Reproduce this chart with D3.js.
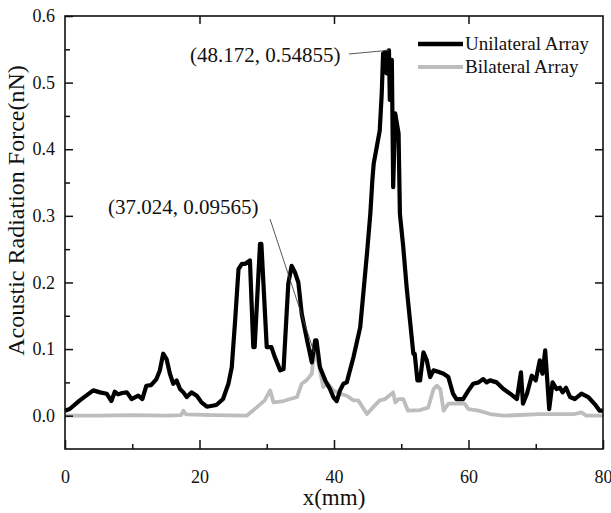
<!DOCTYPE html>
<html>
<head>
<meta charset="utf-8">
<script src="https://cdn.jsdelivr.net/npm/d3@7"></script>
<style>
  html, body { margin: 0; padding: 0; background: #fff; }
  svg { display: block; }
  svg text { font-family: "Liberation Serif", "Times New Roman", serif; }
</style>
</head>
<body>
<svg id="chart" width="611" height="513"></svg>
<script>
// Acoustic radiation force along x for the two transducer layouts
const uniX = [0, 0.7, 2.2, 4.2, 5.2, 6.2, 6.9, 7.4, 7.9, 8.5, 9.2, 9.9, 10.9, 11.5, 12.1, 12.8, 13.6, 14.1, 14.6, 15.1,
  15.6, 16.1, 16.6, 17.1, 17.6, 18.1, 18.8, 19.6, 20.3, 21.1, 22.5, 23.5, 24.3, 24.8, 25.3, 25.8, 26.3, 26.8, 27.5, 28.0,
  28.2, 29.0, 29.2, 30.0, 30.7, 31.2, 32.0, 32.5, 33.2, 33.7, 34.2, 34.7, 35.2, 35.9, 36.7, 37.2, 37.4, 37.9, 38.7, 39.4,
  39.9, 40.4, 40.9, 41.4, 41.9, 42.9, 43.9, 44.4, 44.9, 45.4, 45.7, 45.9, 46.8, 47.1, 47.3, 47.7, 47.8, 48.172, 48.3, 48.6,
  48.8, 49.1, 49.6, 49.8, 50.3, 50.8, 51.3, 51.8, 52.0, 52.4, 52.8, 53.3, 53.8, 54.3, 54.8, 55.5, 56.3, 57.0, 57.7, 58.2,
  59.2, 60.0, 60.7, 61.5, 62.2, 62.7, 63.2, 64.2, 65.2, 66.2, 67.2, 67.8, 68.1, 68.7, 69.4, 70.0, 70.6, 71.0, 71.4, 71.6,
  72.0, 72.5, 73.1, 73.6, 74.0, 74.5, 75.1, 75.8, 76.8, 77.8, 78.8, 79.5, 80];
const uniY = [0.0075, 0.010, 0.023, 0.038, 0.035, 0.033, 0.022, 0.036, 0.032, 0.034, 0.035, 0.025, 0.030, 0.025, 0.045, 0.046, 0.055, 0.068, 0.093, 0.085,
  0.063, 0.048, 0.053, 0.040, 0.035, 0.028, 0.035, 0.030, 0.020, 0.0135, 0.016, 0.025, 0.048, 0.073, 0.143, 0.220, 0.228, 0.228, 0.233, 0.103,
  0.103, 0.258, 0.258, 0.103, 0.103, 0.088, 0.068, 0.070, 0.198, 0.225, 0.215, 0.200, 0.153, 0.118, 0.080, 0.113, 0.113, 0.073, 0.053, 0.040,
  0.028, 0.022, 0.038, 0.048, 0.050, 0.088, 0.133, 0.188, 0.243, 0.303, 0.353, 0.378, 0.428, 0.484, 0.544, 0.546, 0.514, 0.54855, 0.474, 0.534,
  0.343, 0.454, 0.424, 0.303, 0.253, 0.193, 0.143, 0.093, 0.093, 0.053, 0.053, 0.095, 0.083, 0.058, 0.068, 0.066, 0.063, 0.058, 0.033, 0.025,
  0.025, 0.038, 0.048, 0.050, 0.055, 0.050, 0.053, 0.050, 0.040, 0.033, 0.025, 0.065, 0.018, 0.033, 0.060, 0.053, 0.083, 0.063, 0.098, 0.070,
  0.010, 0.050, 0.040, 0.042, 0.035, 0.042, 0.028, 0.025, 0.033, 0.028, 0.017, 0.0075, 0.0075];

const biX = [0, 5, 10, 15, 17.3, 17.6, 18.0, 22, 27.0, 28.5, 29.7, 30.5, 31.0, 32.5, 33.5, 34.5, 35.2, 35.9, 36.7, 37.024,
  37.7, 38.4, 39.1, 39.9, 40.9, 41.9, 42.9, 43.6, 44.9, 45.8, 46.8, 47.6, 48.8, 49.1, 49.6, 50.3, 51.0, 52.8, 54.0, 54.8,
  55.3, 55.8, 56.3, 57.0, 58.7, 59.4, 60.0, 61.5, 63.2, 65.2, 70.6, 75.8, 76.8, 77.5, 80];
const biY = [0.0, 0.0, 0.001, 0.0, 0.001, 0.0075, 0.002, 0.001, 0.0, 0.0125, 0.023, 0.038, 0.020, 0.022, 0.025, 0.028, 0.048, 0.053, 0.063, 0.09565,
  0.078, 0.043, 0.048, 0.038, 0.033, 0.030, 0.023, 0.023, 0.0025, 0.0125, 0.023, 0.025, 0.035, 0.020, 0.025, 0.025, 0.0075, 0.0085, 0.012, 0.040,
  0.045, 0.040, 0.0075, 0.018, 0.0185, 0.018, 0.010, 0.0075, 0.0025, 0.0, 0.0025, 0.0025, 0.005, 0.0, 0.0];

const seriesNames = ["Unilateral Array", "Bilateral Array"];
const xMajor = [0, 20, 40, 60, 80];
const xMinor = [10, 30, 50, 70];
const yMajor = [0.0, 0.1, 0.2, 0.3, 0.4, 0.5, 0.6];
const yMinor = [0.05, 0.15, 0.25, 0.35, 0.45, 0.55];
// Marked maxima: [x, y] of each labelled point
const peaks = [[48.172, 0.54855], [37.024, 0.09565]];

const FONT = "Liberation Serif, Times New Roman, serif";
const svg = d3.select("#chart");
const m = { left: 65, right: 603, top: 16, bottom: 449 };

const x = d3.scaleLinear().domain([0, 80]).range([m.left, m.right]);
const y = d3.scaleLinear().domain([-0.05, 0.6]).range([m.bottom, m.top]);

const line = d3.line().x(d => x(d[0])).y(d => y(d[1]));
const uni = uniX.map((v, i) => [v, uniY[i]]);
const bi = biX.map((v, i) => [v, biY[i]]);

// series
svg.append("path").datum(bi).attr("d", line)
  .attr("fill", "none").attr("stroke", "#bdbdbd").attr("stroke-width", 3.8).attr("stroke-linejoin", "round");
svg.append("path").datum(uni).attr("d", line)
  .attr("fill", "none").attr("stroke", "#000").attr("stroke-width", 4.2).attr("stroke-linejoin", "round");

// axes with inward ticks
const fmtY = d3.format(".1f");
svg.append("g").attr("transform", `translate(0,${m.bottom})`)
  .call(d3.axisBottom(x).tickValues(xMajor).tickSize(-9).tickPadding(21).tickFormat(d3.format("d")));
svg.append("g").attr("transform", `translate(0,${m.bottom})`)
  .call(d3.axisBottom(x).tickValues(xMinor).tickSize(-5).tickFormat(""));
svg.append("g").attr("transform", `translate(${m.left},0)`)
  .call(d3.axisLeft(y).tickValues(yMajor).tickSize(-8).tickPadding(10).tickFormat(fmtY));
svg.append("g").attr("transform", `translate(${m.left},0)`)
  .call(d3.axisLeft(y).tickValues(yMinor).tickSize(-5).tickFormat(""));
svg.append("g").attr("transform", `translate(${m.right},0)`)
  .call(d3.axisRight(y).tickValues(yMajor.slice(1, -1)).tickSize(-8).tickFormat(""));
svg.append("g").attr("transform", `translate(0,${m.top})`)
  .call(d3.axisTop(x).tickValues(xMajor.slice(1, -1)).tickSize(-8).tickFormat(""));

svg.selectAll("g").attr("font-family", FONT);
svg.selectAll(".domain").remove();
svg.selectAll(".tick line").attr("stroke", "#111").attr("stroke-width", 1.5);
svg.selectAll(".tick text").attr("fill", "#111").attr("font-family", FONT).attr("font-size", 18);

svg.append("rect").attr("x", m.left).attr("y", m.top)
  .attr("width", m.right - m.left).attr("height", m.bottom - m.top)
  .attr("fill", "none").attr("stroke", "#111").attr("stroke-width", 1.6);

// axis titles
svg.append("text").attr("x", (m.left + m.right) / 2).attr("y", 505)
  .attr("text-anchor", "middle").attr("font-family", FONT).attr("font-size", 23).attr("fill", "#111").text("x(mm)");
svg.append("text").attr("transform", `translate(24,${(m.top + m.bottom) / 2 - 22}) rotate(-90)`)
  .attr("text-anchor", "middle").attr("font-family", FONT).attr("font-size", 24).attr("fill", "#111")
  .text("Acoustic Radiation Force(nN)");

// legend
const legend = svg.append("g");
const legColors = ["#000", "#bdbdbd"];
seriesNames.forEach((name, i) => {
  const ly = 44 + i * 23;
  legend.append("line").attr("x1", 418).attr("x2", 463).attr("y1", ly).attr("y2", ly)
    .attr("stroke", legColors[i]).attr("stroke-width", i === 0 ? 4.5 : 4);
  legend.append("text").attr("x", 465).attr("y", ly + 6).attr("font-family", FONT)
    .attr("font-size", 19).attr("fill", "#111").text(name);
});

// peak callouts
const fmtPeak = p => `(${p[0]}, ${p[1]})`;
const callouts = [
  { p: peaks[0], tx: 190, ty: 62, lx: 349, ly: 54 },
  { p: peaks[1], tx: 108, ty: 214, lx: 270, ly: 219 }
];
callouts.forEach(c => {
  svg.append("line").attr("x1", c.lx).attr("y1", c.ly).attr("x2", x(c.p[0])).attr("y2", y(c.p[1]))
    .attr("stroke", "#444").attr("stroke-width", 0.9);
  svg.append("text").attr("x", c.tx).attr("y", c.ty).attr("font-family", FONT)
    .attr("font-size", 21).attr("fill", "#111").text(fmtPeak(c.p));
});
</script>
</body>
</html>
